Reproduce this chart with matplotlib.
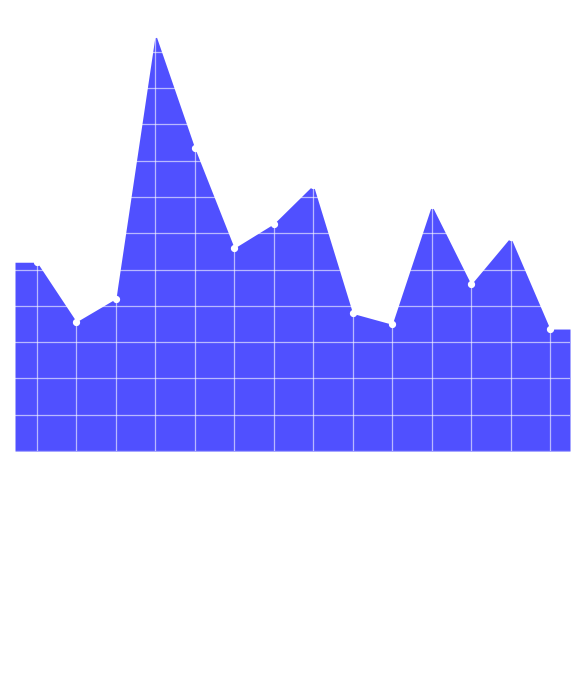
import matplotlib
matplotlib.use("Agg")
import matplotlib.pyplot as plt
import numpy as np

# Data
categories = list(range(14))
values = [52.0, 35.6, 42.0, 114.9, 83.4, 55.9, 62.6, 73.3, 37.9, 34.9, 67.7, 45.9, 58.9, 33.6]

W, H = 585, 685
fig = plt.figure(figsize=(W / 100, H / 100), dpi=100)
left, right, bottom = 15, 570, 451
px_per_unit = 3.63
top = bottom - max(values) * px_per_unit
ax = fig.add_axes([left / W, 1 - bottom / H, (right - left) / W, (bottom - top) / H])

x = np.array(categories, dtype=float)
v = np.array(values)
x0, x1 = -0.557, 13.506
xf = np.r_[x0, x, x1]
vf = np.r_[v[0], v, v[-1]]

fill_color = "#5050FF"
ax.fill_between(xf, 0, vf, color=fill_color, linewidth=0, zorder=1)

# gridlines on top of the area
for k in range(0, 120, 10):
    ax.axhline(k, color="white", alpha=0.6, linewidth=0.9, zorder=2)
for xi in x:
    ax.axvline(xi, color="white", alpha=0.6, linewidth=0.9, zorder=2)

ax.plot(x, v, linestyle="none", marker="o", markersize=4.2,
        markerfacecolor="white", markeredgecolor="white", zorder=3, clip_on=False)

ax.set_xlim(x0, x1)
ax.set_ylim(0, max(values))
for s in ax.spines.values():
    s.set_visible(False)
ax.set_xticks([])
ax.set_yticks([])
ax.patch.set_alpha(0)

fig.savefig("out.png", dpi=100)
